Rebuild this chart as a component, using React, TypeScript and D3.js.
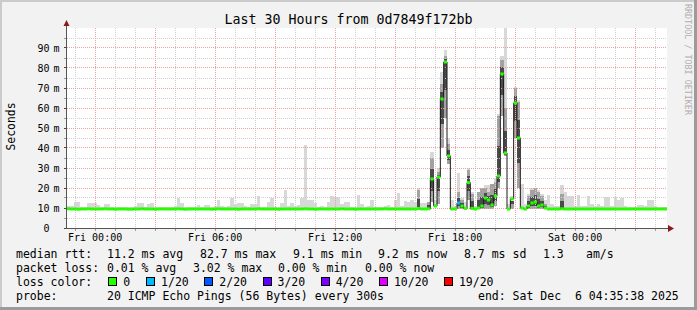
import React from 'react';
import * as d3 from 'd3';

// ---------- data ----------
const END_TIME = Date.UTC(2025, 11, 6, 4, 35, 38);
const SPAN_HOURS = 30;
const STEP_MIN = 10;
const TITLE = 'Last 30 Hours from 0d7849f172bb';
const Y_TITLE = 'Seconds';
const WATERMARK = 'RRDTOOL / TOBI OETIKER';

// median RTT per 10-minute bin (ms)
const medianMs = [
  9.6, 9.5, 9.5, 9.4, 9.5, 9.5, 9.6, 9.5, 9.5, 9.5,
  9.5, 9.6, 9.5, 9.5, 9.4, 9.5, 9.5, 9.5, 9.4, 9.4,
  9.5, 9.5, 9.6, 9.5, 9.5, 9.5, 9.4, 9.5, 9.5, 9.5,
  9.5, 9.5, 9.5, 9.6, 9.5, 9.4, 9.5, 9.5, 9.5, 9.5,
  9.5, 9.5, 9.5, 9.4, 9.5, 9.6, 9.5, 9.5, 9.5, 9.5,
  9.5, 9.4, 9.5, 9.5, 9.5, 9.5, 9.5, 9.6, 9.5, 9.5,
  9.5, 9.5, 9.5, 9.4, 9.5, 9.5, 9.5, 9.5, 9.5, 9.5,
  9.5, 9.6, 9.5, 9.5, 9.4, 9.5, 9.5, 9.5, 9.5, 9.5,
  9.5, 9.5, 9.6, 9.5, 9.5, 9.5, 9.4, 9.5, 9.5, 9.5,
  9.5, 9.5, 9.5, 9.5, 9.5, 9.6, 9.5, 9.5, 9.5, 9.5,
  9.5, 9.5, 9.5, 9.5, 9.5, 9.8, 9.5, 9.5, 9.6, 24.5,
  11.0, 25.5, 64.5, 83.0, 36.0, 9.5, 9.6, 12.5, 11.0, 9.8,
  22.7, 9.8, 9.5, 10.0, 11.0, 15.0, 14.0, 11.5, 16.0, 26.0,
  77.0, 37.5, 9.5, 14.5, 62.5, 45.0, 10.0, 9.5, 11.0, 12.5,
  13.0, 11.0, 11.5, 10.0, 9.5, 9.5, 9.5, 9.5, 9.6, 9.5,
  9.5, 9.5, 9.5, 9.5, 9.5, 9.5, 9.5, 9.5, 9.5, 9.5,
  9.5, 9.5, 9.5, 9.5, 9.5, 9.5, 9.5, 9.5, 9.5, 9.5,
  9.5, 9.5, 9.5, 9.5, 9.5, 9.5, 9.5, 9.5, 9.5, 9.5,
];

// slowest ping per bin (ms) - light smoke top
const maxMs = [
  11, 11, 13, 13, 10.5, 10.5, 12.5, 12.5, 12.5, 11.5,
  10.5, 12, 12, 10.5, 10.5, 10.5, 10.5, 10.5, 10.5, 10.5,
  11, 12.5, 12.5, 10.5, 12, 12.5, 10.5, 10.5, 10.5, 10.5,
  10.5, 10.5, 11, 15, 12.5, 10.5, 10.5, 10.5, 10.5, 11.5,
  10.5, 11.5, 11.5, 10.5, 11, 14, 11, 10.5, 11, 15,
  12, 12.5, 12.5, 11, 10.5, 12, 12, 16, 10.5, 10.5,
  13, 15, 10.5, 10.5, 12.5, 19, 11, 12.5, 11, 11.5,
  15, 41.5, 14, 14, 12.5, 10.5, 11, 10.5, 13, 16,
  15.5, 15.5, 12, 13, 13, 10.5, 10.5, 16.5, 12, 10.5,
  11, 14, 10.5, 10.5, 10.5, 11, 11.5, 10.5, 14, 17.5,
  11, 13.5, 13, 14, 13, 20, 12.5, 12.5, 13, 38,
  14, 30, 78, 89, 45, 14, 11, 27.5, 15, 13,
  30, 18, 11, 15, 20, 21.5, 21.5, 20, 25, 57,
  86, 100, 12, 16, 70.5, 64, 22, 12, 17, 20,
  20, 19, 17, 14, 16.5, 12, 11, 11, 21.5, 18,
  16, 16, 11, 16.5, 11, 11, 16, 12, 11, 12,
  11, 15.5, 15.5, 11, 15.5, 14, 15, 11, 10.5, 10.5,
  10.5, 11.5, 11.5, 11, 14, 14, 11, 10.5, 10.5, 10.5,
];

// bins with dense (dark) smoke, and its extent (ms)
const darkBins = [105, 108, 109, 111, 112, 113, 114, 117, 118, 120, 121, 123, 124, 125, 126, 127, 128, 129, 130, 131, 133, 134, 135, 138, 139, 140, 141, 142, 143, 148];
const darkLoMs = [9, 9.5, 13, 12, 40, 55, 32, 9.5, 9.5, 14, 9.5, 9.5, 9.5, 9.5, 9.5, 9.5, 11, 20, 56, 36, 9.5, 45, 20, 9.5, 9.5, 9.5, 9.5, 9.5, 9.5, 9.5];
const darkHiMs = [19, 13, 35, 28, 72, 86, 42, 18, 14, 29, 17, 18, 20, 20, 18, 22, 23, 56, 84, 60, 13, 70, 63, 16, 19, 20, 18, 16, 12, 17];

// packet loss per bin (sparse; all other bins 0)
const lossBins = [117];
const lossLevelIdx = [1];

const lossLabels = ['0', '1/20', '2/20', '3/20', '4/20', '10/20', '19/20'];
const lossColors = ['#26ff00', '#00b8ff', '#0059ff', '#5e00ff', '#7e00ff', '#dd00ff', '#ff0000'];

const yLabelMs = [0, 10, 20, 30, 40, 50, 60, 70, 80, 90];

const legendRow1 = [
  ['median rtt:', 16], ['11.2 ms avg', 107], ['82.7 ms max', 200], ['9.1 ms min', 293],
  ['9.2 ms now', 378], ['8.7 ms sd', 464], ['1.3', 543], ['am/s', 586],
];
const legendRow2 = [
  ['packet loss:', 16], ['0.01 % avg', 107], ['3.02 % max', 193], ['0.00 % min', 278], ['0.00 % now', 365],
];
const legendRow4 = [
  ['probe:', 16], ['20 ICMP Echo Pings (56 Bytes) every 300s', 107], ['end: Sat Dec  6 04:35:38 2025', 478],
];

// ---------- layout ----------
const W = 697, H = 310;
const PL = 67, PR = 667, PT = 28, PB = 228;
const FONT = '"DejaVu Sans Mono", monospace';
const CH = 6.9;

export default function App() {
  const start = END_TIME - SPAN_HOURS * 3600e3;
  const step = STEP_MIN * 60e3;
  const x = d3.scaleUtc().domain([new Date(start), new Date(END_TIME)]).range([PL, PR]);
  const y = d3.scaleLinear().domain([0, 100]).range([PB, PT]);

  const bins = medianMs.map((m, i) => ({ i, t0: start + i * step, t1: start + (i + 1) * step, med: m, max: maxMs[i] }));
  const pts = [...bins, { ...bins[bins.length - 1], t0: END_TIME }];

  const lightArea = d3.area<any>()
    .x(d => x(new Date(d.t0)))
    .y0(d => y(d.med))
    .y1(d => y(Math.min(d.max, 100)))
    .curve(d3.curveStepAfter)(pts) || '';

  const medLine = d3.line<any>()
    .x(d => x(new Date(d.t0)))
    .y(d => y(d.med))
    .curve(d3.curveStepAfter)(pts) || '';

  const lossOf = (i: number) => {
    const k = lossBins.indexOf(i);
    return k >= 0 ? lossLevelIdx[k] : 0;
  };

  const hoursMinor = d3.utcHour.every(1)!.range(new Date(start), new Date(END_TIME));
  const hoursMajor = d3.utcHour.every(3)!.range(new Date(start), new Date(END_TIME));
  const hoursLabel = d3.utcHour.every(6)!.range(new Date(start), new Date(END_TIME));
  const fmt = d3.utcFormat('%a %H:%M');
  const yMinor = d3.range(5, 100, 5);
  const px = (v: number) => Math.floor(v) + 0.5;

  // legend loss boxes layout
  let bx = 108.3;
  const boxes = lossLabels.map((lab, k) => {
    const b = { x: bx, lab, color: lossColors[k] };
    bx = bx + 15 + lab.length * 6.8 + 16;
    return b;
  });

  return (
    <svg width={W} height={H} style={{ position: 'absolute', left: 0, top: 0, display: 'block' }} fontFamily={FONT}>
      <rect x={0} y={0} width={W} height={H} fill="#f2f2f2" />
      <rect x={0} y={0} width={W} height={2} fill="#cbcbcb" />
      <rect x={0} y={0} width={2} height={H} fill="#cbcbcb" />
      <rect x={W - 3} y={0} width={3} height={H} fill="#9b9b9b" />
      <rect x={0} y={H - 3} width={W} height={3} fill="#9b9b9b" />

      <text x={W / 2} y={24} textAnchor="middle" fontSize={13.3} fill="#000">{TITLE}</text>
      <text transform={`translate(685,4) rotate(90)`} fontSize={8.4} fill="#b0b0b0">{WATERMARK}</text>
      <text transform={`translate(15,126.5) rotate(-90)`} textAnchor="middle" fontSize={11.4} fill="#000">{Y_TITLE}</text>

      <rect x={PL} y={PT} width={PR - PL} height={PB - PT} fill="#ffffff" />

      <defs>
        <clipPath id="plotclip"><rect x={PL} y={PT - 1} width={PR - PL} height={PB - PT + 1} /></clipPath>
      </defs>

      <g clipPath="url(#plotclip)">
        <path d={lightArea} fill="#d8d8d8" shapeRendering="crispEdges" />
        {darkBins.map((b, k) => {
          const bin = bins[b];
          const x0 = x(new Date(bin.t0)), x1 = x(new Date(bin.t1));
          const lo = darkLoMs[k], hi = darkHiMs[k];
          const iLo = (lo + bin.med) / 2, iHi = (hi + bin.med) / 2;
          return (
            <g key={b} shapeRendering="crispEdges">
              <rect x={x0} y={y(hi)} width={x1 - x0} height={y(lo) - y(hi)} fill="#a2a2a2" />
              <rect x={x0} y={y(Math.max(iHi, iLo))} width={x1 - x0} height={Math.abs(y(iLo) - y(iHi))} fill="#4a4a4a" />
            </g>
          );
        })}
      </g>

      {/* grid */}
      <g strokeWidth={1} strokeDasharray="1,1" shapeRendering="crispEdges">
        {yMinor.filter(v => v % 10 !== 0).map(v => (
          <line key={'ym' + v} x1={PL} x2={PR} y1={px(y(v))} y2={px(y(v))} stroke="#cfcfcf" />
        ))}
        {hoursMinor.map(h => (
          <line key={'xm' + +h} x1={px(x(h))} x2={px(x(h))} y1={PT} y2={PB} stroke="#cfcfcf" />
        ))}
        {yMinor.filter(v => v % 10 === 0).map(v => (
          <line key={'yM' + v} x1={PL} x2={PR} y1={px(y(v))} y2={px(y(v))} stroke="#f0a0a0" />
        ))}
        {hoursMajor.map(h => (
          <line key={'xM' + +h} x1={px(x(h))} x2={px(x(h))} y1={PT} y2={PB} stroke="#f0a0a0" />
        ))}
      </g>

      <g clipPath="url(#plotclip)">
        <path d={medLine} fill="none" stroke="#1a1a1a" strokeWidth={1} />
        {bins.map(b => (
          <line key={'g' + b.i} x1={x(new Date(b.t0))} x2={x(new Date(b.t1))} y1={y(b.med)} y2={y(b.med)}
            stroke={lossColors[lossOf(b.i)]} strokeWidth={3} />
        ))}
      </g>

      {/* axes */}
      <g shapeRendering="crispEdges">
        {[...yMinor, 0].map(v => (
          <line key={'yt' + v} x1={PL - 3} x2={PL} y1={px(y(v))} y2={px(y(v))} stroke={v % 10 === 0 ? '#444' : '#999'} />
        ))}
        {hoursMinor.map(h => (
          <line key={'xt' + +h} x1={px(x(h))} x2={px(x(h))} y1={PB} y2={PB + 3} stroke="#999" />
        ))}
        <line x1={66.5} x2={66.5} y1={24} y2={PB + 1} stroke="#555" />
        <line x1={66} x2={670} y1={PB + 0.5} y2={PB + 0.5} stroke="#555" />
      </g>
      <path d={`M63.5,26 L66.5,20 L69.5,26 Z`} fill="#8b1a1a" />
      <path d={`M668,225 L674,228.5 L668,232 Z`} fill="#8b1a1a" />

      {yLabelMs.map(v => (
        <g key={'yl' + v} fontSize={10} fill="#000">
          <text x={49.5} y={y(v) + 3.5} textAnchor="end">{v}</text>
          {v !== 0 && <text x={53.5} y={y(v) + 3.5}>m</text>}
        </g>
      ))}
      {hoursLabel.map(h => (
        <text key={'xl' + +h} x={x(h)} y={241} textAnchor="middle" fontSize={10} fill="#000">{fmt(h)}</text>
      ))}

      {/* legend */}
      <g fontSize={11.5} fill="#000" style={{ whiteSpace: 'pre' }}>
        {legendRow1.map(([t, lx]) => <text key={'a' + t} x={lx as number} y={258} xmlSpace="preserve">{t}</text>)}
        {legendRow2.map(([t, lx]) => <text key={'b' + t + lx} x={lx as number} y={272} xmlSpace="preserve">{t}</text>)}
        <text x={16} y={286}>loss color:</text>
        {boxes.map(b => (
          <g key={'lb' + b.lab}>
            <rect x={b.x + 0.5} y={277.5} width={8} height={8} fill={b.color} stroke="#000" strokeWidth={1} shapeRendering="crispEdges" />
            <text x={b.x + 15} y={286}>{b.lab}</text>
          </g>
        ))}
        {legendRow4.map(([t, lx]) => <text key={'d' + t} x={lx as number} y={300} xmlSpace="preserve">{t}</text>)}
      </g>
    </svg>
  );
}
